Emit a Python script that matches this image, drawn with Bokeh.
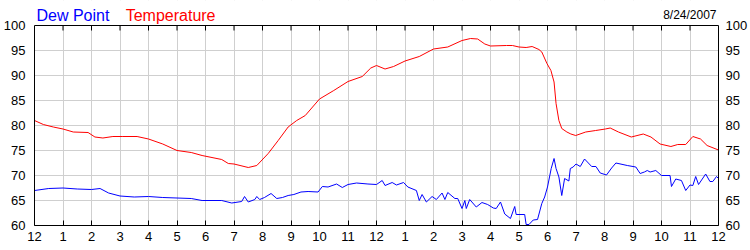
from bokeh.plotting import figure
from bokeh.models import Range1d, FixedTicker, LinearAxis, Span, BoxAnnotation
from bokeh.core.properties import value
from bokeh.embed import file_html
from bokeh.resources import INLINE

# ---- data (hours after midnight, °F) ----
temp_hours = [0, 0.31, 0.66, 1.0, 1.36, 1.88, 2.12, 2.4, 2.75, 3.1, 3.6, 4.0, 4.5, 5.0, 5.5,
              5.88, 6.57, 6.8, 7.0, 7.5, 7.8, 8.2, 8.55, 8.9, 9.2, 9.5, 10.0, 10.5, 11.0,
              11.5, 11.8, 12.0, 12.3, 12.6, 13.0, 13.5, 14.0, 14.5, 15.0, 15.3, 15.55, 15.8,
              16.0, 16.56, 16.77, 17.0, 17.25, 17.46, 17.7, 17.8, 17.98, 18.12, 18.23, 18.3,
              18.4, 18.5, 18.68, 18.82, 18.99, 19.34, 19.69, 20.03, 20.2, 20.49, 20.94,
              21.36, 21.63, 21.95, 22.33, 22.57, 22.85, 23.1, 23.37, 23.6, 24.0]
temperature = [81.0, 80.2, 79.7, 79.3, 78.7, 78.6, 77.7, 77.5, 77.8, 77.8, 77.8, 77.3, 76.3, 75.0,
               74.6, 74.0, 73.2, 72.4, 72.3, 71.6, 72.0, 74.4, 77.0, 79.7, 81.0, 82.0, 85.3,
               87.0, 88.8, 89.8, 91.5, 92.0, 91.3, 91.8, 92.9, 93.8, 95.3, 95.7, 97.0, 97.4,
               97.3, 96.3, 95.9, 96.0, 96.0, 95.7, 95.6, 95.8, 95.2, 94.7, 92.4, 91.0, 88.7,
               84.4, 81.0, 79.4, 78.7, 78.3, 78.0, 78.7, 79.0, 79.3, 79.5, 78.7, 77.7, 78.3,
               77.7, 76.3, 75.8, 76.2, 76.2, 77.8, 77.3, 76.0, 75.1]

dew_hours = [0, 0.5, 1.0, 1.5, 2.0, 2.3, 2.6, 3.0, 3.5, 4.0, 4.5, 5.0, 5.5, 5.88, 6.57, 6.92,
             7.27, 7.37, 7.5, 7.73, 7.8, 7.9, 8.07, 8.3, 8.5, 8.7, 8.9, 9.1, 9.35, 9.6, 9.95,
             10.1, 10.3, 10.6, 10.8, 11.0, 11.3, 11.7, 12.0, 12.2, 12.3, 12.55, 12.7, 12.95,
             13.1, 13.4, 13.5, 13.6, 13.75, 13.95, 14.1, 14.3, 14.4, 14.5, 14.75, 14.85, 15.0,
             15.1, 15.15, 15.27, 15.5, 15.7, 15.9, 16.1, 16.2, 16.35, 16.5, 16.7, 16.85, 16.9,
             17.2, 17.25, 17.35, 17.5, 17.65, 17.8, 17.9, 18.0, 18.13, 18.23, 18.3, 18.4, 18.5,
             18.6, 18.75, 18.8, 18.9, 19.0, 19.15, 19.3, 19.55, 19.7, 19.85, 20.07, 20.25,
             20.4, 20.8, 21.1, 21.25, 21.4, 21.5, 21.6, 21.8, 22.0, 22.3, 22.35, 22.5, 22.7,
             22.85, 23.0, 23.1, 23.2, 23.3, 23.55, 23.7, 23.8, 23.93, 24.0]
dew_point = [67.0, 67.4, 67.5, 67.3, 67.2, 67.4, 66.5, 65.9, 65.7, 65.8, 65.6, 65.5, 65.4, 65.0,
             65.0, 64.5, 64.8, 65.8, 64.7, 65.2, 65.8, 65.2, 65.6, 66.4, 65.4, 65.6, 66.0,
             66.2, 66.7, 66.8, 66.7, 67.8, 67.7, 68.3, 67.6, 68.2, 68.5, 68.3, 68.2, 69.0,
             68.0, 68.6, 68.1, 68.6, 67.7, 67.0, 65.0, 66.2, 64.7, 65.8, 65.2, 66.5, 65.2,
             66.6, 65.4, 65.4, 63.4, 65.0, 63.4, 65.2, 63.7, 64.6, 64.2, 63.5, 63.4, 64.7,
             62.3, 61.4, 63.8, 62.2, 62.2, 60.2, 60.2, 61.1, 61.2, 64.4, 65.7, 67.7, 71.4,
             73.4, 71.4, 69.7, 66.0, 69.4, 68.9, 71.4, 71.7, 72.3, 71.8, 73.3, 71.8, 71.8,
             70.5, 70.1, 71.5, 72.5, 72.0, 71.7, 70.4, 70.7, 71.0, 70.7, 71.0, 70.0, 70.0,
             67.8, 69.3, 69.0, 67.0, 68.1, 68.0, 69.8, 68.2, 70.3, 68.8, 68.8, 69.8, 69.4]

x_ticks = list(range(25))
x_tick_labels = ["12", "1", "2", "3", "4", "5", "6", "7", "8", "9", "10", "11",
                 "12", "1", "2", "3", "4", "5", "6", "7", "8", "9", "10", "11", "12"]
y_ticks = [60, 65, 70, 75, 80, 85, 90, 95, 100]
series_names = ["Dew Point", "Temperature"]
series_colors = ["#0000ff", "#ff0000"]
date_text = "8/24/2007"

FONT = "Liberation Sans"
Y_MIN, Y_MAX = 60, 100
HEAD = 5                      # extra y units above the chart for the header strip (25 px)
X_MIN, X_MAX = 0, 24
PX_PER_HOUR = 690 / 24        # frame is 690 px wide
PX_PER_UNIT = 5               # 200 px for 40 °F

p = figure(width=750, height=250, output_backend="svg", toolbar_location=None, title=None,
           x_range=Range1d(X_MIN, X_MAX), y_range=Range1d(Y_MIN, Y_MAX + HEAD),
           min_border_left=31, min_border_right=29, min_border_top=0, min_border_bottom=25,
           background_fill_color="white", border_fill_color="white")
p.outline_line_color = None

xt = FixedTicker(ticks=x_ticks)
yt = FixedTicker(ticks=y_ticks)

xa = p.xaxis[0]
xa.ticker = xt
xa.major_label_overrides = {t: lab for t, lab in zip(x_ticks, x_tick_labels)}
xa.major_tick_in = 5
xa.major_tick_out = 0
xa.minor_tick_in = 0
xa.minor_tick_out = 0
xa.axis_line_color = "black"
xa.major_tick_line_color = "black"
xa.major_label_text_font = FONT
xa.major_label_text_font_size = "13px"
xa.major_label_text_color = "black"
xa.major_label_standoff = 6

def style_y(ax, standoff):
    ax.ticker = yt
    ax.bounds = (Y_MIN, Y_MAX)
    ax.major_tick_in = 0
    ax.major_tick_out = 0
    ax.minor_tick_in = 0
    ax.minor_tick_out = 0
    ax.axis_line_color = "black"
    ax.major_label_text_font = FONT
    ax.major_label_text_font_size = "13px"
    ax.major_label_text_color = "black"
    ax.major_label_standoff = standoff

style_y(p.yaxis[0], 9)
right_ax = LinearAxis()
style_y(right_ax, 7)
p.add_layout(right_ax, "right")

p.xgrid.ticker = xt
p.ygrid.ticker = yt
p.xgrid.grid_line_color = "#cfcfcf"
p.ygrid.grid_line_color = "#cfcfcf"

# blank header strip above the chart (hides grid lines there)
p.add_layout(BoxAnnotation(bottom=Y_MAX, fill_color="white", fill_alpha=1.0,
                           line_color=None, level="underlay"))
# top border of the chart
p.add_layout(Span(location=Y_MAX, dimension="width", line_color="black", line_width=1))
# inward hour ticks along the top edge (one y unit = 5 px)
p.segment(x0=x_ticks, y0=[Y_MAX] * len(x_ticks), x1=x_ticks, y1=[Y_MAX - 1] * len(x_ticks),
          line_color="black", line_width=1)

p.line(temp_hours, temperature, line_color=series_colors[1], line_width=1)
p.line(dew_hours, dew_point, line_color=series_colors[0], line_width=1)

# header texts above the chart's top edge
name_y = Y_MAX + 10 / PX_PER_UNIT
date_y = Y_MAX + 10.5 / PX_PER_UNIT
p.text(x=[X_MIN + 2 / PX_PER_HOUR], y=[name_y], text=[series_names[0]],
       text_color=series_colors[0], text_font=value(FONT), text_font_size="16px",
       text_baseline="alphabetic")
p.text(x=[X_MIN + 92 / PX_PER_HOUR], y=[name_y], text=[series_names[1]],
       text_color=series_colors[1], text_font=value(FONT), text_font_size="16px",
       text_baseline="alphabetic")
p.text(x=[X_MAX - 2 / PX_PER_HOUR], y=[date_y], text=[date_text], text_color="black",
       text_font=value(FONT), text_font_size="12px", text_align="right",
       text_baseline="alphabetic")

open("out.html", "w").write(file_html(p, INLINE))
